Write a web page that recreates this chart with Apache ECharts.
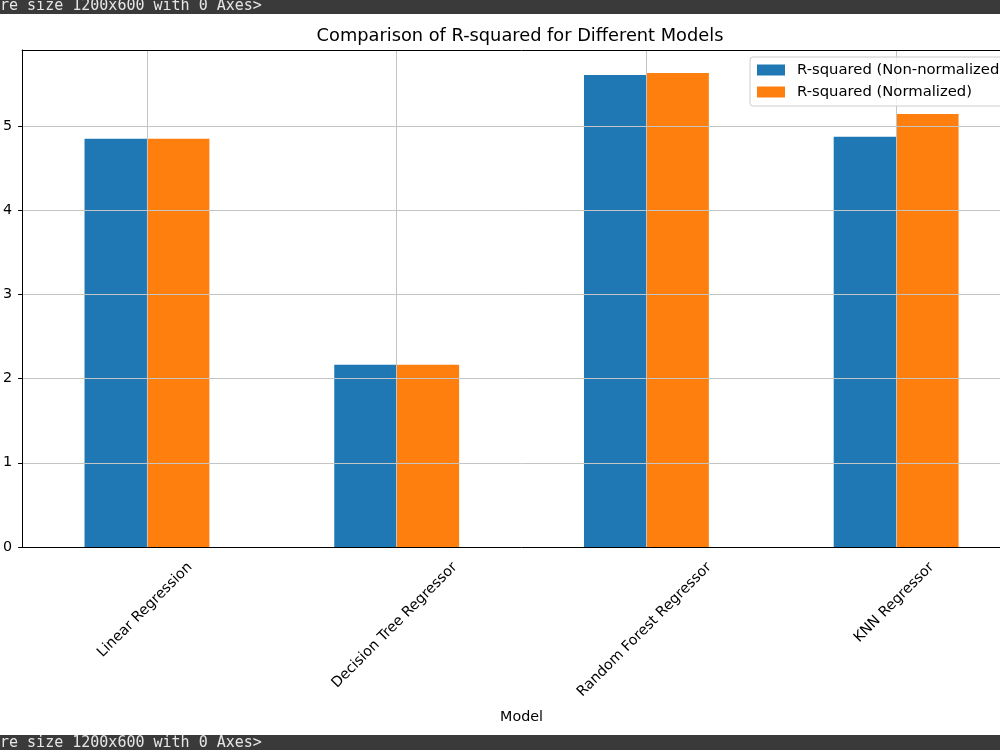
<!DOCTYPE html>
<html>
<head>
<meta charset="utf-8">
<script src="https://cdn.jsdelivr.net/npm/echarts@6.0.0/dist/echarts.min.js"></script>
<style>
  html, body { margin: 0; padding: 0; overflow: hidden; background: #fff; }
  #chart { width: 1021px; height: 750px; }
</style>
</head>
<body>
<div id="chart"></div>
<script>
// data
const models = ['Linear Regression', 'Decision Tree Regressor', 'Random Forest Regressor', 'KNN Regressor'];
const r2NonNormalized = [4.846, 2.164, 5.602, 4.870];
const r2Normalized = [4.846, 2.164, 5.626, 5.139];
const yTicks = [0, 1, 2, 3, 4, 5];
const seriesNames = ['R-squared (Non-normalized)', 'R-squared (Normalized)'];
const bannerText = 're size 1200x600 with 0 Axes>';

const FONT = "'DejaVu Sans', sans-serif";
const TICK_SIZE = 14.3;

// half-step slots so vertical grid lines can sit on the category centres
const gridSlots = models.flatMap(m => ['', m]).concat('');

const chart = echarts.init(document.getElementById('chart'));

const option = {
  animation: false,
  backgroundColor: '#fff',
  title: {
    text: 'Comparison of R-squared for Different Models',
    left: 515,
    textAlign: 'center',
    top: 22,
    textStyle: { fontFamily: FONT, fontSize: 17.8, fontWeight: 'normal', color: '#000' }
  },
  legend: {
    data: seriesNames,
    orient: 'vertical',
    left: 750,
    top: 57,
    padding: [5, 10, 6, 7],
    itemWidth: 28,
    itemHeight: 11,
    itemGap: 6,
    icon: 'rect',
    z: 20,
    backgroundColor: 'rgba(255,255,255,0.8)',
    borderColor: '#cccccc',
    borderWidth: 1,
    borderRadius: 3,
    textStyle: { fontFamily: FONT, fontSize: 14.8, color: '#000', lineHeight: 16, padding: [0, 0, 0, 7] }
  },
  grid: { left: 19, right: 0, top: 50, bottom: 203, show: false },
  xAxis: [
    {
      type: 'category',
      data: models,
      z: 11,
      name: 'Model',
      nameLocation: 'middle',
      nameGap: 163,
      nameTextStyle: { fontFamily: FONT, fontSize: TICK_SIZE, color: '#000' },
      axisLine: { lineStyle: { color: '#000', width: 1 } },
      axisTick: { alignWithLabel: true, length: 4, lineStyle: { color: '#000' } },
      axisLabel: { show: false },
      splitLine: { show: false }
    },
    {
      type: 'category',
      data: gridSlots,
      position: 'top',
      boundaryGap: false,
      z: 10,
      axisLine: { show: true, lineStyle: { color: '#000', width: 1 } },
      axisTick: { show: false },
      axisLabel: { show: false },
      splitLine: { show: true, interval: (i) => i % 2 === 1, lineStyle: { color: '#c4c4c4', width: 1 } }
    }
  ],
  yAxis: {
    type: 'value',
    min: 0,
    max: 5.9,
    interval: 1,
    z: 10,
    axisLine: { show: true, lineStyle: { color: '#000', width: 1 } },
    axisTick: { show: true, length: 4, customValues: yTicks, lineStyle: { color: '#000' } },
    axisLabel: { customValues: yTicks, margin: 10, fontFamily: FONT, fontSize: TICK_SIZE, color: '#000' },
    splitLine: { show: true, lineStyle: { color: '#c4c4c4', width: 1 } }
  },
  series: [
    {
      name: seriesNames[0],
      type: 'bar',
      data: r2NonNormalized,
      itemStyle: { color: '#1f77b4' },
      barGap: '0%',
      barCategoryGap: '50%'
    },
    {
      name: seriesNames[1],
      type: 'bar',
      data: r2Normalized,
      itemStyle: { color: '#ff7f0e' },
      barGap: '0%',
      barCategoryGap: '50%'
    }
  ]
};

chart.setOption(option);

// rotated tick labels, centred under each tick like matplotlib does
const ctx = document.createElement('canvas').getContext('2d');
ctx.font = TICK_SIZE + 'px ' + FONT;
const axisY = chart.convertToPixel({ yAxisIndex: 0 }, 0);
const labelGraphics = models.map(m => {
  const x = chart.convertToPixel({ xAxisIndex: 0 }, m);
  const w = ctx.measureText(m).width;
  const h = (w + TICK_SIZE * 1.17) * Math.SQRT1_2;
  return {
    type: 'text',
    x: x - 2,
    y: axisY + 12 + h / 2,
    rotation: Math.PI / 4,
    style: {
      text: m,
      align: 'center',
      verticalAlign: 'middle',
      font: TICK_SIZE + 'px ' + FONT,
      fill: '#000'
    }
  };
});

const bannerFont = "15px 'DejaVu Sans Mono', monospace";
const banners = [
  { type: 'rect', shape: { x: 0, y: 0, width: 1021, height: 14 }, style: { fill: '#3a3a3a' }, z: 50 },
  { type: 'text', x: 0, y: -1.5, z: 51, style: { text: bannerText, font: bannerFont, fill: '#e6e6e6', verticalAlign: 'top' } },
  { type: 'rect', shape: { x: 0, y: 735, width: 1021, height: 15 }, style: { fill: '#3a3a3a' }, z: 50 },
  { type: 'text', x: 0, y: 736, z: 51, style: { text: bannerText, font: bannerFont, fill: '#e6e6e6', verticalAlign: 'top' } }
];

chart.setOption({ graphic: labelGraphics.concat(banners) });
</script>
</body>
</html>
